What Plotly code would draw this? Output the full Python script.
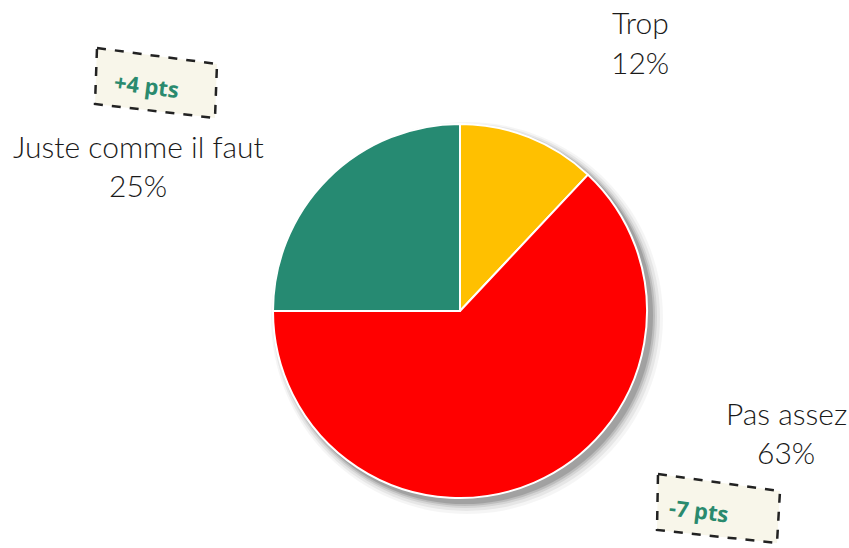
import plotly.graph_objects as go

W, H = 849, 548

labels = ["Trop", "Pas assez", "Juste comme il faut"]
values = [12, 63, 25]
colors = ["#FFC000", "#FF0000", "#268A72"]
deltas = ["+4 pts", "-7 pts"]


def px(x, y):
    # pixel (from top-left) -> paper coordinates
    return x / W, 1 - y / H


cx, cy, r = 460, 311, 187

fig = go.Figure()

# ombre portée (cercles gris superposés, léger décalage)
for k, a in [(12, 0.04), (9, 0.06), (6, 0.08), (4, 0.11), (2, 0.14)]:
    x0, y0 = px(cx - r + 4 - k / 2, cy - r + 4 - k / 2)
    x1, y1 = px(cx + r + 4 + k, cy + r + 4 + k)
    fig.add_shape(
        type="circle", xref="paper", yref="paper",
        x0=x0, y0=y1, x1=x1, y1=y0,
        fillcolor=f"rgba(0,0,0,{a})", line=dict(width=0), layer="below",
    )

dx0, dy0 = px(cx - r, cy + r)
dx1, dy1 = px(cx + r, cy - r)
fig.add_trace(
    go.Pie(
        labels=labels,
        values=values,
        sort=False,
        direction="clockwise",
        rotation=0,
        marker=dict(colors=colors, line=dict(color="white", width=2)),
        textinfo="none",
        hoverinfo="label+percent",
        domain=dict(x=[dx0, dx1], y=[dy0, dy1]),
        showlegend=False,
    )
)

# étiquettes (nom + pourcentage)
total = sum(values)
label_pos = {
    "Trop": (640, 22, 62),
    "Pas assez": (786, 413, 452),
    "Juste comme il faut": (138, 146, 185),
}
for lab, v in zip(labels, values):
    x, y1, y2 = label_pos[lab]
    for txt, yy in [(lab, y1), (f"{round(100 * v / total)}%", y2)]:
        ax, ay = px(x, yy)
        fig.add_annotation(
            xref="paper", yref="paper", x=ax, y=ay, text=txt,
            showarrow=False, xanchor="center", yanchor="middle",
            font=dict(family="Lato", size=30, weight=300, color="#1a1a1a"),
        )

# encadrés d'évolution (pointillés, légèrement inclinés)
boxes = [
    ([(97, 48), (217, 64), (215, 118), (95, 104)], (146, 85)),
    ([(658, 474), (780, 491), (777, 543), (657, 530)], (699, 510)),
]
for (corners, (tx, ty)), txt in zip(boxes, deltas):
    pts = [px(x, y) for x, y in corners]
    path = "M " + " L ".join(f"{a:.5f},{b:.5f}" for a, b in pts) + " Z"
    fig.add_shape(
        type="path", xref="paper", yref="paper", path=path,
        fillcolor="#F8F6EA", line=dict(color="#222222", width=2.5, dash="dash"),
    )
    ax, ay = px(tx, ty)
    fig.add_annotation(
        xref="paper", yref="paper", x=ax, y=ay, text=f"<b>{txt}</b>",
        showarrow=False, textangle=7, xanchor="center", yanchor="middle",
        font=dict(family="Open Sans", size=22, color="#2A8A6E"),
    )

fig.update_layout(
    width=W,
    height=H,
    margin=dict(l=0, r=0, t=0, b=0),
    paper_bgcolor="white",
    plot_bgcolor="white",
)

# la page ajoute une marge de 8 px autour du graphique : on la retire
fig.write_html(
    "out.html",
    config={"displayModeBar": False},
    post_script="document.body.style.margin='0';document.body.style.overflow='hidden';",
)
